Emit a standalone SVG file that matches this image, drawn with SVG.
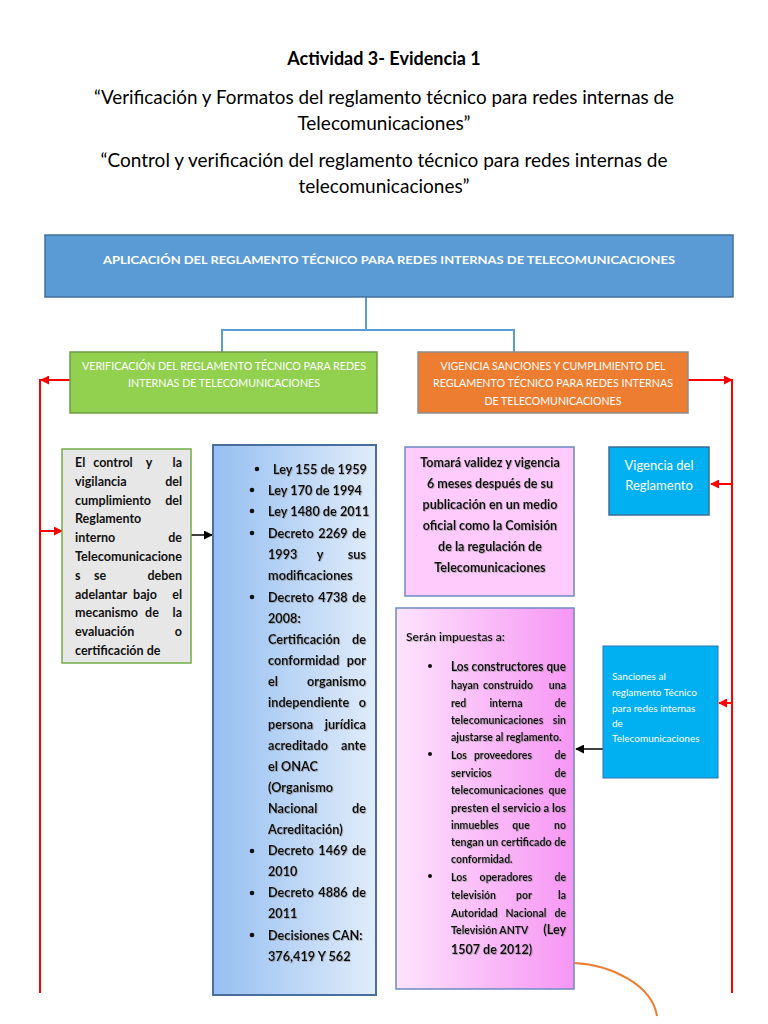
<svg xmlns="http://www.w3.org/2000/svg" width="768" height="1024" viewBox="0 0 768 1024">
<style>
text{font-family:Lato,"Open Sans","Liberation Sans",sans-serif;}
.t{fill:#000;}
.b{font-weight:bold;}
.w{fill:#fff;}
.c{text-anchor:middle;}
.e{text-anchor:end;}
.red{stroke:#ff0000;stroke-width:2;fill:none;}
.blk{stroke:#000;stroke-width:1.5;fill:none;}
.tree{stroke:#5b9bd5;stroke-width:2;fill:none;}
.gl{font-size:12.5px;font-weight:bold;fill:#111;}
.bl{font-size:12.7px;font-weight:bold;fill:#111;filter:url(#sh);}
.pk{font-size:12.5px;font-weight:bold;fill:#111;filter:url(#sh);}
.pk2{font-size:10.5px;font-weight:bold;fill:#111;filter:url(#sh);}
</style>
<defs>
<marker id="ar" viewBox="0 0 10 10" refX="9" refY="5" markerWidth="9" markerHeight="9" markerUnits="userSpaceOnUse" orient="auto"><path d="M0,0 L10,5 L0,10 z" fill="#ff0000"/></marker>
<marker id="ab" viewBox="0 0 10 10" refX="9" refY="5" markerWidth="9" markerHeight="9" markerUnits="userSpaceOnUse" orient="auto"><path d="M0,0 L10,5 L0,10 z" fill="#000"/></marker>
<linearGradient id="gb" x1="0" y1="0" x2="1" y2="0"><stop offset="0" stop-color="#96bff1"/><stop offset="1" stop-color="#e1ecfa"/></linearGradient>
<linearGradient id="gp" x1="0" y1="0" x2="1" y2="0"><stop offset="0" stop-color="#fde3fc"/><stop offset="1" stop-color="#f796f4"/></linearGradient>
<filter id="sh" x="-5%" y="-20%" width="110%" height="150%"><feDropShadow dx="0.8" dy="0.8" stdDeviation="0.5" flood-color="#777" flood-opacity="0.6"/></filter>
</defs>

<g id="titles">
<text x="384" y="65" class="c b" font-size="18">Actividad 3- Evidencia 1</text>
<text x="384" y="104" class="c" font-size="19" textLength="580" lengthAdjust="spacingAndGlyphs">“Verificación y Formatos del reglamento técnico para redes internas de</text>
<text x="384" y="130" class="c" font-size="19">Telecomunicaciones”</text>
<text x="384" y="167" class="c" font-size="19" textLength="567" lengthAdjust="spacingAndGlyphs">“Control y verificación del reglamento técnico para redes internas de</text>
<text x="384" y="193" class="c" font-size="19">telecomunicaciones”</text>
</g>

<g id="connectors">
<path class="tree" d="M366,297 V330 M221,330 H515 M222,329 V352 M514,329 V352"/>
<path class="red" d="M40,379 V993"/>
<path class="red" d="M70,380 H41" marker-end="url(#ar)"/>
<path class="red" d="M40,531 H62" marker-end="url(#ar)"/>
<path class="red" d="M732,379 V993"/>
<path class="red" d="M688,380 H732" marker-end="url(#ar)"/>
<path class="red" d="M732,484 H711" marker-end="url(#ar)"/>
<path class="red" d="M732,703 H719" marker-end="url(#ar)"/>
<path class="blk" d="M191,535 H212" marker-end="url(#ab)"/>
<path class="blk" d="M603,749 H576" marker-end="url(#ab)"/>
<path d="M574,963 C612,965 652,985 657,1016" stroke="#ed7d31" stroke-width="2" fill="none"/>
</g>

<g id="n-top">
<rect x="45" y="235" width="688" height="62" fill="#5b9bd5" stroke="#41719c" stroke-width="1.5"/>
<text x="389" y="264" class="c b w" font-size="12" textLength="572" lengthAdjust="spacingAndGlyphs">APLICACIÓN DEL REGLAMENTO TÉCNICO PARA REDES INTERNAS DE TELECOMUNICACIONES</text>
</g>

<g id="n-verif">
<rect x="70" y="352" width="307" height="61" fill="#92d050" stroke="#6f9a45" stroke-width="1.5"/>
<text x="224" y="370" class="c w" font-size="11" textLength="284" lengthAdjust="spacingAndGlyphs">VERIFICACIÓN DEL REGLAMENTO TÉCNICO PARA REDES</text>
<text x="224" y="387" class="c w" font-size="11" textLength="192" lengthAdjust="spacingAndGlyphs">INTERNAS DE TELECOMUNICACIONES</text>
</g>

<g id="n-vigencia-sanciones">
<rect x="418" y="352" width="270" height="61" fill="#ed7d31" stroke="#8d8d8d" stroke-width="1.5"/>
<text x="553" y="370" class="c w" font-size="11" textLength="225" lengthAdjust="spacingAndGlyphs">VIGENCIA SANCIONES Y CUMPLIMIENTO DEL</text>
<text x="553" y="387" class="c w" font-size="11" textLength="240" lengthAdjust="spacingAndGlyphs">REGLAMENTO TÉCNICO PARA REDES INTERNAS</text>
<text x="553" y="405" class="c w" font-size="11" textLength="137" lengthAdjust="spacingAndGlyphs">DE TELECOMUNICACIONES</text>
</g>

<g id="n-control">
<rect x="62" y="449" width="129" height="214" fill="#e8e7e7" stroke="#70ad47" stroke-width="1.5"/>
<text class="gl" x="75" y="467">El</text><text class="gl c" x="113" y="467">control</text><text class="gl c" x="149" y="467">y</text><text class="gl e" x="182" y="467">la</text>
<text class="gl" x="75" y="486">vigilancia</text><text class="gl e" x="182" y="486">del</text>
<text class="gl" x="75" y="505">cumplimiento</text><text class="gl e" x="182" y="505">del</text>
<text class="gl" x="75" y="523">Reglamento</text>
<text class="gl" x="75" y="542">interno</text><text class="gl e" x="182" y="542">de</text>
<text class="gl" x="75" y="561" textLength="107" lengthAdjust="spacingAndGlyphs">Telecomunicacione</text>
<text class="gl" x="75" y="580">s</text><text class="gl c" x="100" y="580">se</text><text class="gl e" x="182" y="580">deben</text>
<text class="gl" x="75" y="599">adelantar</text><text class="gl c" x="145" y="599">bajo</text><text class="gl e" x="182" y="599">el</text>
<text class="gl" x="75" y="617">mecanismo</text><text class="gl c" x="152" y="617">de</text><text class="gl e" x="182" y="617">la</text>
<text class="gl" x="75" y="636">evaluación</text><text class="gl e" x="182" y="636">o</text>
<text class="gl" x="75" y="655">certificación de</text>
</g>

<g id="n-leyes">
<rect x="213" y="445" width="163" height="550" fill="url(#gb)" stroke="#4a6f9f" stroke-width="2"/>
<g fill="#111">
<circle cx="257" cy="469" r="2.3"/><circle cx="252" cy="490" r="2.3"/><circle cx="252" cy="511" r="2.3"/><circle cx="252" cy="533" r="2.3"/><circle cx="252" cy="597" r="2.3"/><circle cx="252" cy="851" r="2.3"/><circle cx="252" cy="893" r="2.3"/><circle cx="252" cy="935" r="2.3"/>
</g>
<text class="bl" x="273" y="474">Ley 155 de 1959</text>
<text class="bl" x="268" y="495">Ley 170 de 1994</text>
<text class="bl" x="268" y="516">Ley 1480 de 2011</text>
<text class="bl" x="268" y="538">Decreto</text><text class="bl c" x="333" y="538">2269</text><text class="bl e" x="366" y="538">de</text>
<text class="bl" x="268" y="559">1993</text><text class="bl c" x="320" y="559">y</text><text class="bl e" x="366" y="559">sus</text>
<text class="bl" x="268" y="580">modificaciones</text>
<text class="bl" x="268" y="602">Decreto</text><text class="bl c" x="333" y="602">4738</text><text class="bl e" x="366" y="602">de</text>
<text class="bl" x="268" y="623">2008:</text>
<text class="bl" x="268" y="644">Certificación</text><text class="bl e" x="366" y="644">de</text>
<text class="bl" x="268" y="665">conformidad</text><text class="bl e" x="366" y="665">por</text>
<text class="bl" x="268" y="686">el</text><text class="bl e" x="366" y="686">organismo</text>
<text class="bl" x="268" y="707">independiente</text><text class="bl e" x="366" y="707">o</text>
<text class="bl" x="268" y="729">persona</text><text class="bl e" x="366" y="729">jurídica</text>
<text class="bl" x="268" y="750">acreditado</text><text class="bl e" x="366" y="750">ante</text>
<text class="bl" x="268" y="771">el ONAC</text>
<text class="bl" x="268" y="792">(Organismo</text>
<text class="bl" x="268" y="813">Nacional</text><text class="bl e" x="366" y="813">de</text>
<text class="bl" x="268" y="834">Acreditación)</text>
<text class="bl" x="268" y="855">Decreto</text><text class="bl c" x="333" y="855">1469</text><text class="bl e" x="366" y="855">de</text>
<text class="bl" x="268" y="876">2010</text>
<text class="bl" x="268" y="897">Decreto</text><text class="bl c" x="333" y="897">4886</text><text class="bl e" x="366" y="897">de</text>
<text class="bl" x="268" y="918">2011</text>
<text class="bl" x="268" y="940">Decisiones CAN:</text>
<text class="bl" x="268" y="961">376,419 Y 562</text>
</g>

<g id="n-validez">
<rect x="405" y="447" width="169" height="149" fill="#ffcbfd" stroke="#6d8ac4" stroke-width="1.5"/>
<text class="pk c" x="490" y="467">Tomará validez y vigencia</text>
<text class="pk c" x="490" y="488">6 meses después de su</text>
<text class="pk c" x="490" y="509">publicación en un medio</text>
<text class="pk c" x="490" y="530">oficial como la Comisión</text>
<text class="pk c" x="490" y="551">de la regulación de</text>
<text class="pk c" x="490" y="572">Telecomunicaciones</text>
</g>

<g id="n-vigencia">
<rect x="609" y="447" width="100" height="68" fill="#00b0f0" stroke="#3b6e9c" stroke-width="1.5"/>
<text class="c w" x="659" y="470" font-size="13">Vigencia del</text>
<text class="c w" x="659" y="490" font-size="13">Reglamento</text>
</g>

<g id="n-impuestas">
<rect x="396" y="608" width="178" height="381" fill="url(#gp)" stroke="#6d8ac4" stroke-width="1.5"/>
<text x="406" y="641" font-size="12" font-weight="600" fill="#111" filter="url(#sh)">Serán impuestas a:</text>
<g fill="#111"><circle cx="430" cy="666" r="2"/><circle cx="430" cy="754" r="2"/><circle cx="430" cy="876" r="2"/></g>
<text class="pk" x="451" y="671" textLength="115" lengthAdjust="spacingAndGlyphs">Los constructores que</text>
<text class="pk2" x="451" y="689">hayan</text><text class="pk2 c" x="508" y="689">construido</text><text class="pk2 e" x="566" y="689">una</text>
<text class="pk2" x="451" y="707">red</text><text class="pk2 c" x="506" y="707">interna</text><text class="pk2 e" x="566" y="707">de</text>
<text class="pk2" x="451" y="724">telecomunicaciones</text><text class="pk2 e" x="566" y="724">sin</text>
<text class="pk2" x="451" y="741">ajustarse al reglamento.</text>
<text class="pk2" x="451" y="759">Los</text><text class="pk2 c" x="503" y="759">proveedores</text><text class="pk2 e" x="566" y="759">de</text>
<text class="pk2" x="451" y="777">servicios</text><text class="pk2 e" x="566" y="777">de</text>
<text class="pk2" x="451" y="794">telecomunicaciones</text><text class="pk2 e" x="566" y="794">que</text>
<text class="pk2" x="451" y="812" textLength="115" lengthAdjust="spacingAndGlyphs">presten el servicio a los</text>
<text class="pk2" x="451" y="829">inmuebles</text><text class="pk2 c" x="521" y="829">que</text><text class="pk2 e" x="566" y="829">no</text>
<text class="pk2" x="451" y="846" textLength="115" lengthAdjust="spacingAndGlyphs">tengan un certificado de</text>
<text class="pk2" x="451" y="863">conformidad.</text>
<text class="pk2" x="451" y="881">Los</text><text class="pk2 c" x="506" y="881">operadores</text><text class="pk2 e" x="566" y="881">de</text>
<text class="pk2" x="451" y="899">televisión</text><text class="pk2 c" x="524" y="899">por</text><text class="pk2 e" x="566" y="899">la</text>
<text class="pk2" x="451" y="917">Autoridad</text><text class="pk2 c" x="526" y="917">Nacional</text><text class="pk2 e" x="566" y="917">de</text>
<text class="pk2" x="451" y="934">Televisión ANTV</text><text class="pk e" x="566" y="934">(Ley</text>
<text class="pk" x="451" y="954">1507 de 2012)</text>
</g>

<g id="n-sanciones">
<rect x="603" y="646" width="115" height="132" fill="#00b0f0" stroke="#2e75b6" stroke-width="1"/>
<text class="w" x="612" y="680" font-size="10">Sanciones al</text>
<text class="w" x="612" y="696" font-size="10">reglamento Técnico</text>
<text class="w" x="612" y="712" font-size="10">para redes internas</text>
<text class="w" x="612" y="727" font-size="10">de</text>
<text class="w" x="612" y="742" font-size="10">Telecomunicaciones</text>
</g>
</svg>
